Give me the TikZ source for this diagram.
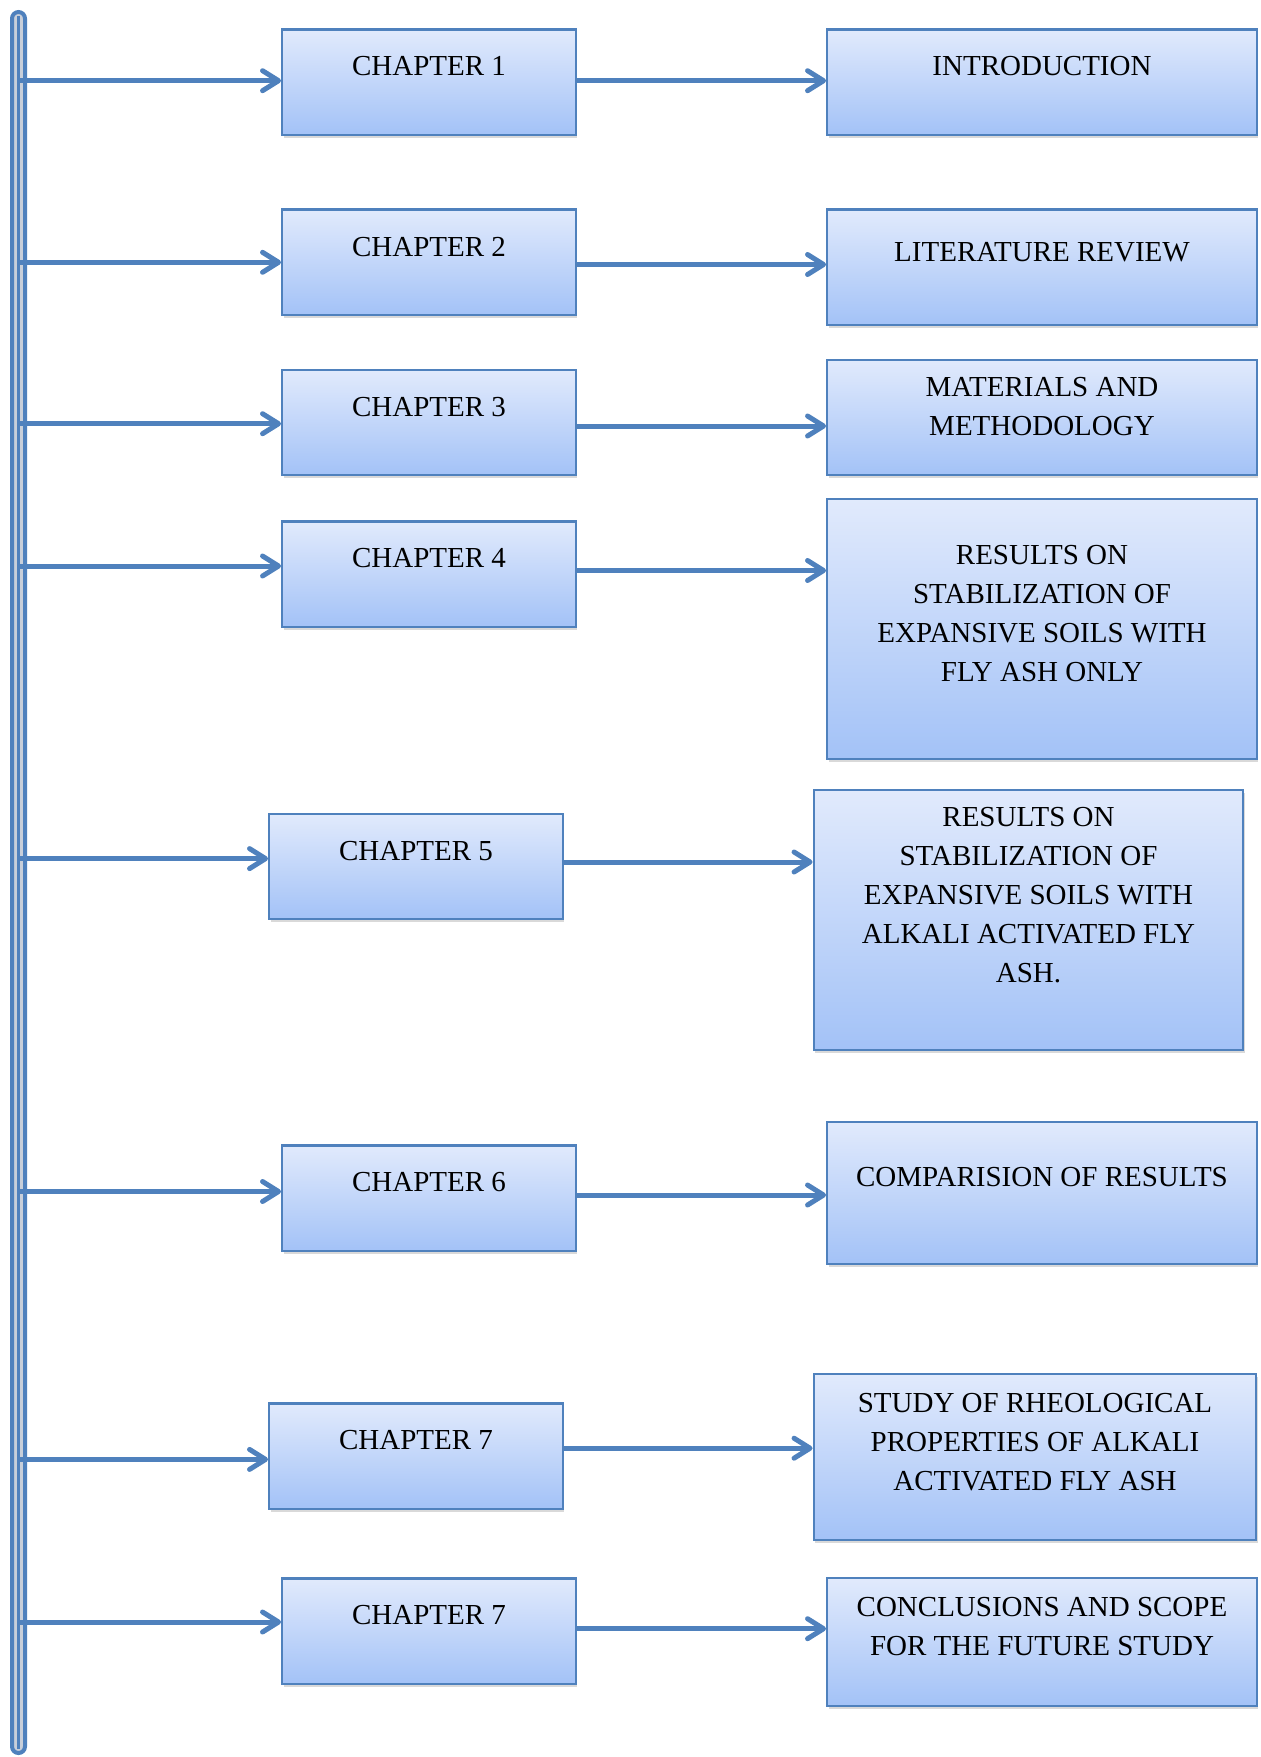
\documentclass[tikz,border=0pt]{standalone}
\usepackage{fontspec}
\setmainfont{Liberation Serif}
\usetikzlibrary{arrows.meta,shadows}
\definecolor{boxline}{RGB}{79,129,189}
\definecolor{boxtop}{RGB}{225,234,252}
\definecolor{boxbot}{RGB}{163,194,247}
\definecolor{spinefill}{RGB}{200,207,218}

\begin{document}
\begin{tikzpicture}[x=0.5pt,y=-0.5pt,
		chapbox/.style={draw=boxline,line width=1.2pt,top color=boxtop,bottom color=boxbot,
			drop shadow={shadow xshift=0.8pt,shadow yshift=-1.6pt,opacity=0.3}},
		lbl/.style={align=center,font=\fontsize{14.5}{19.5}\selectfont},
		conn/.style={draw=boxline,line width=2.5pt,-{Straight Barb[length=8pt,width=10pt,round]}}]
			\useasboundingbox (0,0) rectangle (1261,1757);
			% the long bar on the left
			\node[draw=boxline,line width=2pt,fill=spinefill,rounded corners=3.25pt,inner sep=0pt,
				minimum width=6.5pt,minimum height=870.5pt] (spine) at (18.5,882.5) {};
			\draw[boxline,line width=1.5pt,shorten <=3pt,shorten >=3pt] (spine.north) -- (spine.south);
			% chapters
			\foreach \n/\x/\y/\t in {1/429/82/CHAPTER 1,2/429/262.3/CHAPTER 2,3/429/422.5/CHAPTER 3,4/429/574/CHAPTER 4,
				5/416/866.5/CHAPTER 5,6/429/1198/CHAPTER 6,7/416/1456/CHAPTER 7,8/429/1631/CHAPTER 7}
				\node[chapbox,minimum width=146.75pt,minimum height=52.7pt,label={[lbl,yshift=7.8pt]center:{\t}}] (c\n) at (\x,\y) {};
			% contents
			\foreach \n/\x/\y/\w/\h/\s/\t in {
				1/1042/82/214.75/52.7/7.8/INTRODUCTION,
				2/1042/267.4/214.75/57.75/7.6/LITERATURE REVIEW,
				3/1042/417.5/214.75/57.75/5.3/{MATERIALS AND\\METHODOLOGY},
				4/1042/628.8/214.75/130/7.8/{RESULTS ON\\STABILIZATION OF\\EXPANSIVE SOILS WITH\\FLY ASH ONLY},
				5/1028.5/920/214.75/130/12.3/{RESULTS ON\\STABILIZATION OF\\EXPANSIVE SOILS WITH\\ALKALI ACTIVATED FLY\\ASH.},
				6/1042/1193/214.75/71.2/8/COMPARISION OF RESULTS,
				7/1035/1457/221.25/83/7.3/{STUDY OF RHEOLOGICAL\\PROPERTIES OF ALKALI\\ACTIVATED FLY ASH},
				8/1042/1642/214.75/64/7.5/{CONCLUSIONS AND SCOPE\\FOR THE FUTURE STUDY}}
				\node[chapbox,minimum width=\w pt,minimum height=\h pt,label={[lbl,yshift=\s pt]center:{\t}}] (r\n) at (\x,\y) {};
			% arrows, at the heights where they meet the boxes
			\foreach \n/\a/\b in {1/80.7/80.7,2/262.3/264.5,3/423.7/426,4/566/570.5,
				5/858.6/862,6/1191.5/1195,7/1459.4/1448.2,8/1622/1628.7}{
				\draw[conn] (spine |- 0,\a) -- (c\n.west |- 0,\a);
				\draw[conn] (c\n.east |- 0,\b) -- (r\n.west |- 0,\b);
			}
		\end{tikzpicture}
\end{document}
